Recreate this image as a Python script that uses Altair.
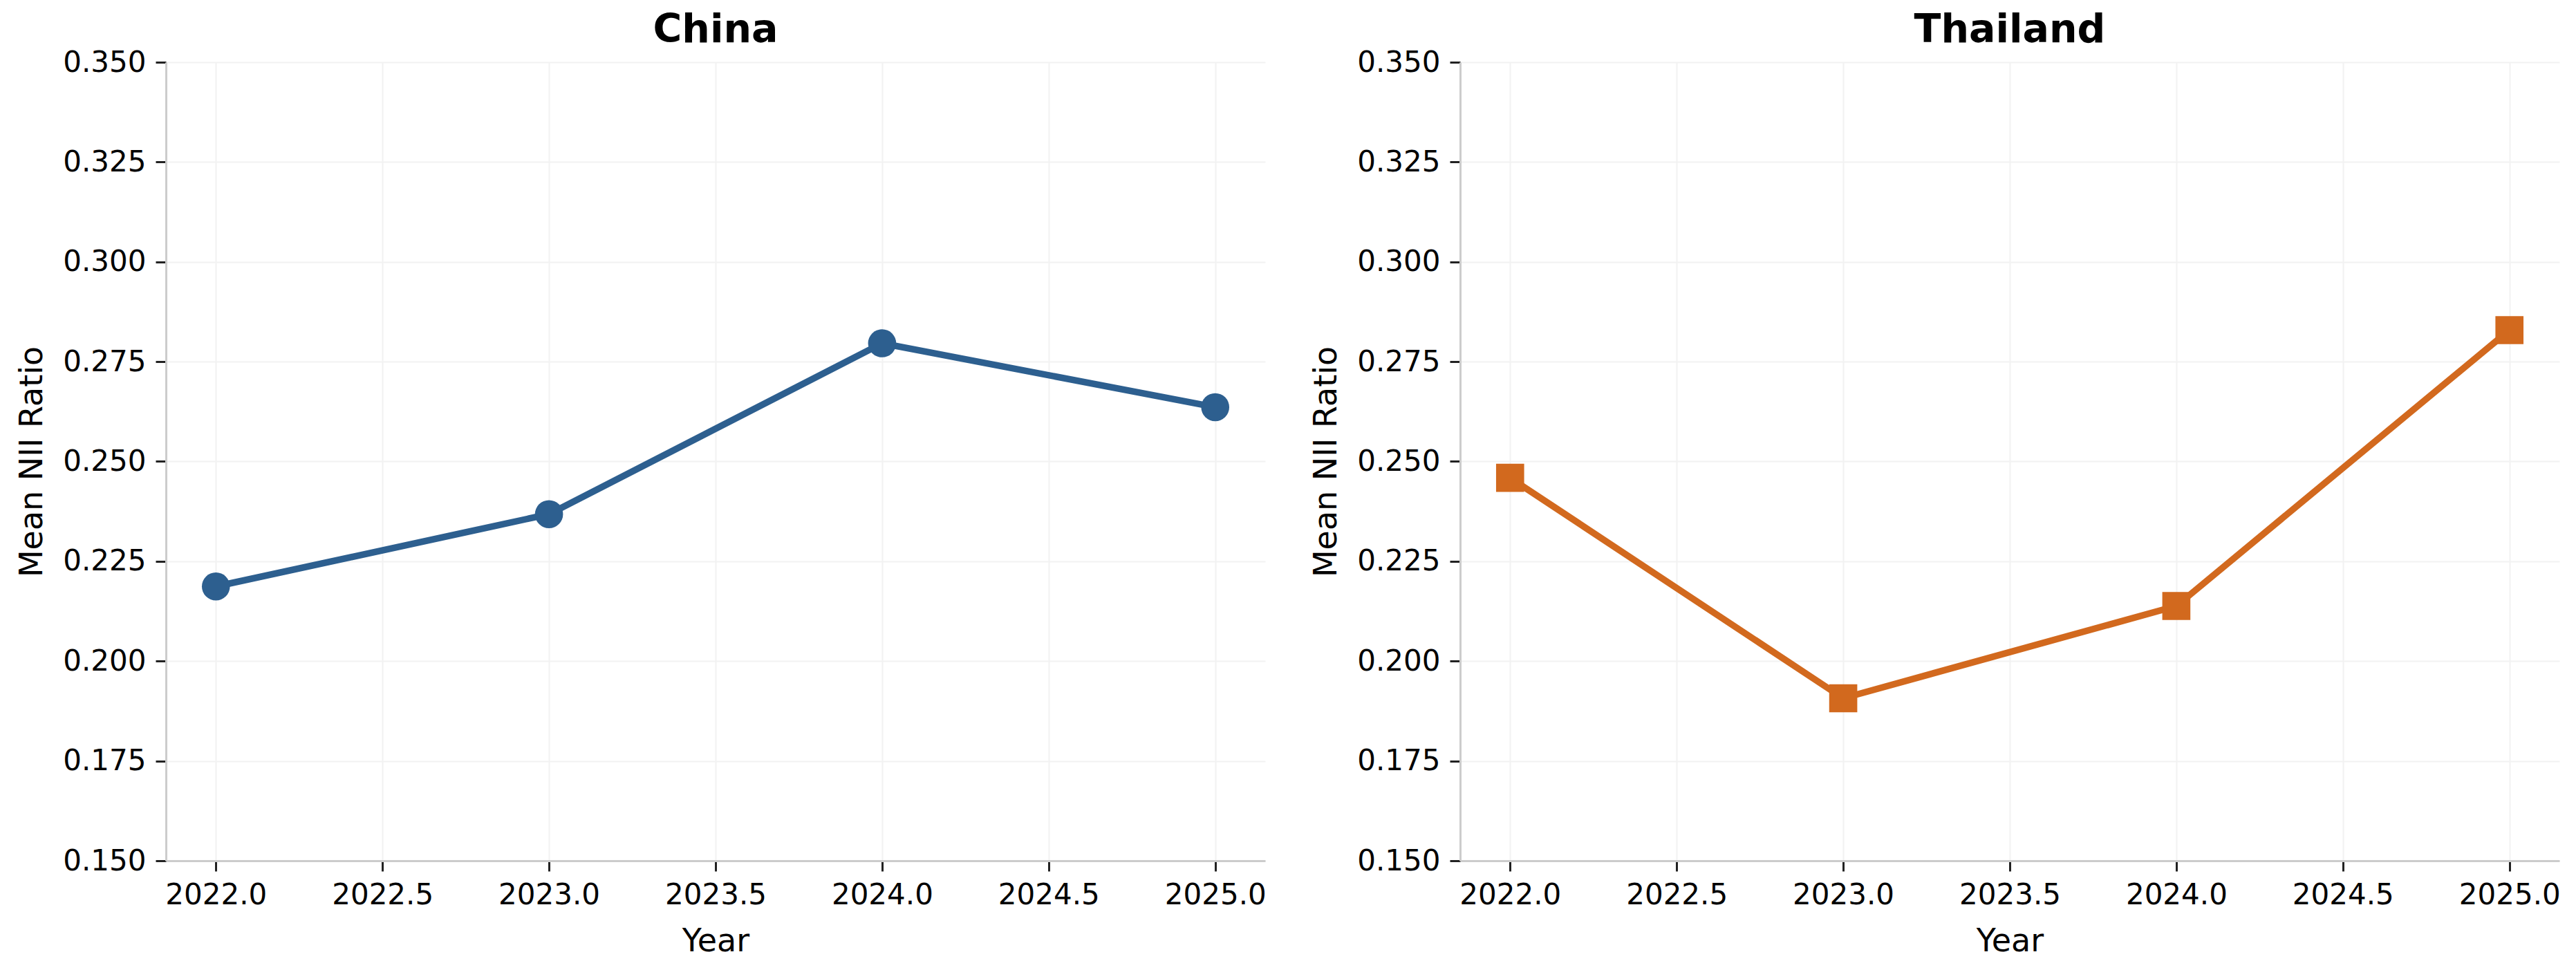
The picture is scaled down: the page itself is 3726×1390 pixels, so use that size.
import altair as alt
import pandas as pd

years = [2022, 2023, 2024, 2025]
china = [0.2187, 0.2368, 0.2796, 0.2636]
thailand = [0.2459, 0.1907, 0.2138, 0.2829]
x_ticks = [2022.0, 2022.5, 2023.0, 2023.5, 2024.0, 2024.5, 2025.0]
y_ticks = [0.150, 0.175, 0.200, 0.225, 0.250, 0.275, 0.300, 0.325, 0.350]

FONT = "DejaVu Sans"

def panel(name, values, color, shape):
    df = pd.DataFrame({"Year": years, "Value": values})
    x = alt.X("Year:Q", title="Year",
              scale=alt.Scale(domain=[2021.85, 2025.15], nice=False, zero=False),
              axis=alt.Axis(values=x_ticks, format=".1f"))
    y = alt.Y("Value:Q", title="Mean NII Ratio",
              scale=alt.Scale(domain=[0.15, 0.35], nice=False, zero=False),
              axis=alt.Axis(values=y_ticks, format=".3f"))
    base = alt.Chart(df).encode(x=x, y=y)
    line = base.mark_line(color=color, strokeWidth=9.5)
    pts = base.mark_point(filled=True, color=color, size=1650, shape=shape, opacity=1)
    return alt.layer(line, pts).properties(
        width=1590, height=1155,
        title=alt.TitleParams(name, font=FONT, fontSize=57, fontWeight="bold",
                              color="black", offset=-4),
    )

chart = alt.hconcat(
    panel("China", china, "#2d5f8f", "circle"),
    panel("Thailand", thailand, "#d2691e", "square"),
    spacing=63,
).configure_view(stroke=None).configure_axis(
    labelFont=FONT, labelFontSize=42, labelColor="black",
    titleFont=FONT, titleFontSize=46, titleColor="black", titleFontWeight="normal",
    domainColor="#cccccc", domainWidth=3,
    tickColor="#222222", tickWidth=3, tickSize=15,
    labelPadding=14,
    gridColor="#f2f2f2", gridWidth=2,
).configure_axisY(titlePadding=20).configure_axisX(titlePadding=24).properties(
    padding={"left": 15, "top": 7, "right": 5, "bottom": 5}
)

chart.save("out.html", embed_options={"renderer": "svg", "actions": False})
